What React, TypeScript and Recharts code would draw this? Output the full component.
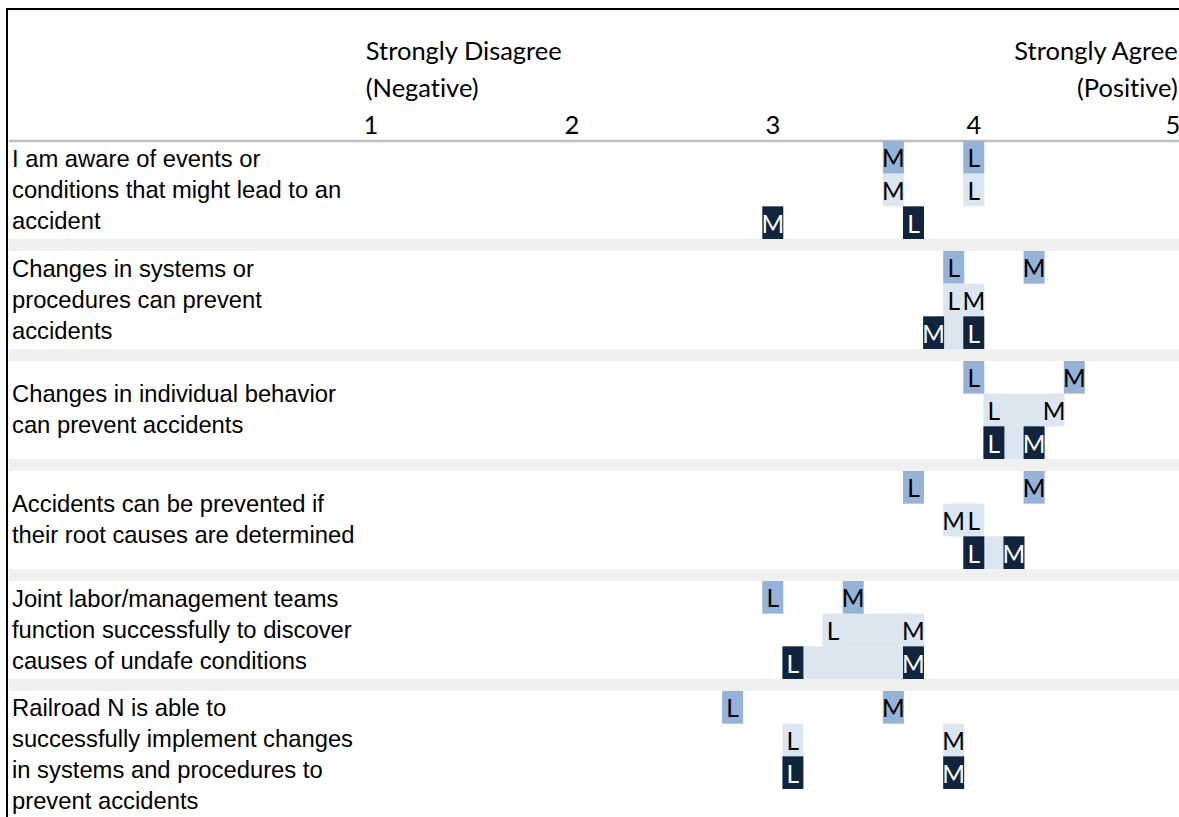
import { ComposedChart, ReferenceArea, Scatter, XAxis, YAxis } from "recharts"

// survey statements (wrapped as in the source sheet)
const questions: string[][] = [
  ["I am aware of events or", "conditions that might lead to an", "accident"],
  ["Changes in systems or", "procedures can prevent", "accidents"],
  ["Changes in individual behavior", "can prevent accidents"],
  ["Accidents can be prevented if", "their root causes are determined"],
  ["Joint labor/management teams", "function successfully to discover", "causes of undafe conditions"],
  ["Railroad N is able to", "successfully implement changes", "in systems and procedures to", "prevent accidents"],
]

// mean scores, L and M, for each of the three respondent groups (top / middle / bottom line)
const topL = [4.0, 3.9, 4.0, 3.7, 3.0, 2.8]
const topM = [3.6, 4.3, 4.5, 4.3, 3.4, 3.6]
const midL = [4.0, 3.9, 4.1, 4.0, 3.3, 3.1]
const midM = [3.6, 4.0, 4.4, 3.9, 3.7, 3.9]
const lowL = [3.7, 4.0, 4.1, 4.0, 3.1, 3.1]
const lowM = [3.0, 3.8, 4.3, 4.2, 3.7, 3.9]

// statements where the L-M gap is shaded on the middle and bottom lines
const shaded = [false, true, true, true, true, false]

const scaleTicks = [1, 2, 3, 4, 5]
const lowEnd = ["Strongly Disagree", "(Negative)"]
const highEnd = ["Strongly Agree", "(Positive)"]

// layout
const GAP = 0.367 // grey separator, in line units
const BLOCK = 3 + GAP
const X_DOMAIN: [number, number] = [-0.8, 5.2]
const Y_DOMAIN: [number, number] = [0, 21]
const PX_PER_UNIT = 201
const LINE_PX = 32.67
const AXIS_H = 141
const MARGIN = { top: 0, right: 0, bottom: 0, left: 9 }
const CHART_W = MARGIN.left + (X_DOMAIN[1] - X_DOMAIN[0]) * PX_PER_UNIT
const CHART_H = AXIS_H + (Y_DOMAIN[1] - Y_DOMAIN[0]) * LINE_PX
const CELL_W = 21

const MEDIUM = "#95b3d7"
const LIGHT = "#dce6f1"
const DARK = "#10243e"
const SEP = "#f0f0f0"

const headFont = "Lato, 'Open Sans', sans-serif"
const bodyFont = "'Liberation Sans', Arial, sans-serif"
const noLig = { fontVariantLigatures: "none" as const }

const tiers = [
  { key: "top", L: topL, M: topM, fill: MEDIUM, ink: "#000000" },
  { key: "mid", L: midL, M: midM, fill: LIGHT, ink: "#000000" },
  { key: "low", L: lowL, M: lowM, fill: DARK, ink: "#ffffff" },
]

const tierPoints = tiers.map((t, j) =>
  questions.flatMap((_, i) => [
    { x: t.L[i], y: i * BLOCK + j + 0.5, letter: "L" },
    { x: t.M[i], y: i * BLOCK + j + 0.5, letter: "M" },
  ])
)

function makeCell(fill: string, ink: string) {
  return (props: any) => {
    const { cx, cy, payload } = props
    return (
      <g>
        <rect x={cx - CELL_W / 2} y={cy - LINE_PX / 2} width={CELL_W} height={LINE_PX} fill={fill} />
        <text
          x={cx}
          y={cy + 10}
          textAnchor="middle"
          fontFamily={headFont}
          fontSize={24.5}
          fill={ink}
        >
          {payload.letter}
        </text>
      </g>
    )
  }
}

function ScaleTick(props: any) {
  const { x, payload } = props
  const v = payload.value
  const base = AXIS_H - 7
  const extra = v === 1 ? lowEnd : v === 5 ? highEnd : []
  const anchor = v === 1 ? "start" : "end"
  const ex = v === 1 ? x - 5 : x + 3
  return (
    <g fontFamily={headFont} fontSize={25.5} fill="#000000" style={noLig}>
      {extra.map((s, k) => (
        <text key={k} x={ex} y={base - (2 - k) * 37} textAnchor={anchor}>
          {s}
        </text>
      ))}
      <text x={v === 5 ? x - 2 : x} y={base} textAnchor="middle">
        {v}
      </text>
    </g>
  )
}

function questionLabel(i: number) {
  return (props: any) => {
    const top = props.viewBox?.y ?? 0
    const lines = questions[i]
    const n = lines.length
    const first = n > 3 ? top + 17 : top + 49 - (n - 1) * 15.5
    return (
      <g fontFamily={bodyFont} fontSize={23.8} fill="#000000">
        {lines.map((s, k) => (
          <text key={k} x={12} y={first + k * 31 + 8}>
            {s}
          </text>
        ))}
      </g>
    )
  }
}

export default function App() {
  return (
    <div
      style={{
        position: "absolute",
        left: 0,
        top: 0,
        width: 1179,
        height: 817,
        overflow: "hidden",
        background: "#ffffff",
      }}
    >
      <ComposedChart width={CHART_W} height={CHART_H} margin={MARGIN}>
        <XAxis
          dataKey="x"
          type="number"
          orientation="top"
          domain={X_DOMAIN}
          allowDataOverflow
          ticks={scaleTicks}
          interval={0}
          height={AXIS_H}
          tickLine={false}
          axisLine={{ stroke: "#bfbfbf", strokeWidth: 2.5 }}
          tick={<ScaleTick />}
        />
        <YAxis dataKey="y" type="number" domain={Y_DOMAIN} reversed allowDataOverflow hide />

        {/* grey separators between statements */}
        {questions.slice(0, -1).map((_, i) => (
          <ReferenceArea
            key={`sep${i}`}
            x1={X_DOMAIN[0]}
            x2={X_DOMAIN[1]}
            y1={i * BLOCK + 3}
            y2={(i + 1) * BLOCK}
            fill={SEP}
            fillOpacity={1}
            stroke="none"
          />
        ))}

        {/* statement text in the left column */}
        {questions.map((_, i) => (
          <ReferenceArea
            key={`q${i}`}
            x1={X_DOMAIN[0]}
            x2={1}
            y1={i * BLOCK}
            y2={i * BLOCK + 3}
            fillOpacity={0}
            stroke="none"
            label={questionLabel(i)}
          />
        ))}

        {/* shaded L-M gaps */}
        {questions.map((_, i) =>
          shaded[i]
            ? [1, 2].map((j) => {
                const t = tiers[j]
                return (
                  <ReferenceArea
                    key={`gap${i}-${j}`}
                    x1={Math.min(t.L[i], t.M[i])}
                    x2={Math.max(t.L[i], t.M[i])}
                    y1={i * BLOCK + j}
                    y2={i * BLOCK + j + 1}
                    fill={LIGHT}
                    fillOpacity={1}
                    stroke="none"
                  />
                )
              })
            : null
        )}

        {tiers.map((t, j) => (
          <Scatter
            key={t.key}
            name={t.key}
            data={tierPoints[j]}
            shape={makeCell(t.fill, t.ink)}
            isAnimationActive={false}
          />
        ))}
      </ComposedChart>
      <div
        style={{
          position: "absolute",
          left: 6,
          top: 8,
          right: 0,
          bottom: 0,
          borderLeft: "2.5px solid #000000",
          borderTop: "2px solid #000000",
          pointerEvents: "none",
        }}
      />
    </div>
  )
}
